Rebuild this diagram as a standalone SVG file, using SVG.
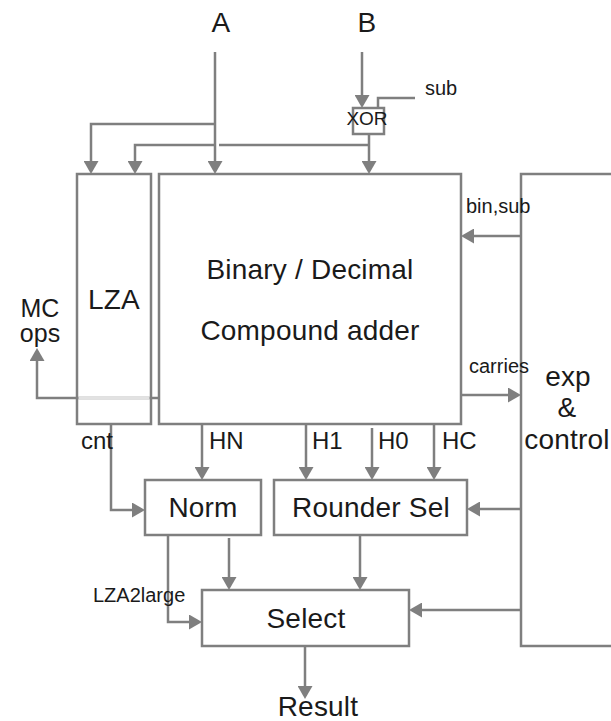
<svg xmlns="http://www.w3.org/2000/svg" width="611" height="721" viewBox="0 0 611 721">
<style>
.box{fill:#fff;stroke:#7f7f7f;stroke-width:2.5}
.ln{fill:none;stroke:#7f7f7f;stroke-width:2.5}
.arr{marker-end:url(#ah)}
text{font-family:"Liberation Sans",Arial,sans-serif;fill:#1a1a1a}
.big{font-size:28px;text-anchor:middle;letter-spacing:0.2px}
.mid{font-size:24px}
.sm{font-size:20px}
</style>
<defs>
<marker id="ah" markerUnits="userSpaceOnUse" markerWidth="14" markerHeight="15" refX="10" refY="7.5" orient="auto">
<path d="M0,0 L13,7.5 L0,15 z" fill="#7f7f7f"/>
</marker>
</defs>
<rect width="611" height="721" fill="#fff"/>
<g id="connectors">
<path class="ln arr" d="M215,52 V171"/>
<path class="ln arr" d="M215,124 H91 V171"/>
<path class="ln" d="M369,145 H219"/>
<path class="ln arr" d="M215,145 H135 V171"/>
<path class="ln arr" d="M362,52 V105"/>
<path class="ln" d="M415,98 H378 V108"/>
<path class="ln arr" d="M369,134 V171"/>
<path class="ln arr" d="M159,398 H37 V351"/>
<path class="ln arr" d="M521,236 H464"/>
<path class="ln arr" d="M461,395 H518"/>
<path class="ln arr" d="M202,424 V477"/>
<path class="ln arr" d="M306,424 V477"/>
<path class="ln arr" d="M372,428 V477"/>
<path class="ln arr" d="M434,424 V477"/>
<path class="ln arr" d="M111,424 V510 H142"/>
<path class="ln arr" d="M521,509 H470"/>
<path class="ln arr" d="M229,538 V587"/>
<path class="ln arr" d="M168,535 V622 H199"/>
<path class="ln arr" d="M360,535 V587"/>
<path class="ln arr" d="M521,610 H412"/>
<path class="ln arr" d="M305,646 V696"/>
</g>
<g id="xor">
<rect class="box" x="353" y="108" width="31" height="26"/>
<text x="367" y="125" style="font-size:19px;text-anchor:middle">XOR</text>
</g>
<g id="lza">
<rect class="box" x="77" y="174" width="74" height="250" fill-opacity="0"/>
<path d="M78.5,398 H149.5" stroke="#e2e2e2" stroke-width="2.5"/>
<text class="big" x="114" y="309">LZA</text>
</g>
<g id="adder">
<rect class="box" x="159" y="174" width="302" height="250"/>
<text class="big" x="310" y="279">Binary / Decimal</text>
<text class="big" x="310" y="340">Compound adder</text>
</g>
<g id="exp">
<rect class="box" x="521" y="174" width="110" height="472"/>
<text class="big" x="568" y="386">exp</text>
<text class="big" x="567" y="417">&amp;</text>
<text class="big" x="567" y="449">control</text>
</g>
<g id="norm">
<rect class="box" x="145" y="480" width="116" height="55"/>
<text class="big" x="203" y="517">Norm</text>
</g>
<g id="rounder">
<rect class="box" x="274" y="480" width="193" height="55"/>
<text class="big" x="371" y="517">Rounder Sel</text>
</g>
<g id="select">
<rect class="box" x="202" y="590" width="207" height="56"/>
<text class="big" x="306" y="628">Select</text>
</g>
<g id="labels">
<text class="big" x="221" y="32">A</text>
<text class="big" x="367" y="32">B</text>
<text class="sm" x="425" y="95">sub</text>
<text x="40" y="317" style="font-size:25px;text-anchor:middle">MC</text>
<text x="40" y="342" style="font-size:25px;text-anchor:middle">ops</text>
<text class="sm" x="466" y="213">bin,sub</text>
<text class="sm" x="469" y="373">carries</text>
<text class="mid" x="81" y="449">cnt</text>
<text class="mid" x="209" y="449">HN</text>
<text class="mid" x="312" y="449">H1</text>
<text class="mid" x="378" y="449">H0</text>
<text class="mid" x="442" y="449">HC</text>
<text class="sm" x="93" y="602">LZA2large</text>
<text class="big" x="318" y="716">Result</text>
</g>
</svg>
